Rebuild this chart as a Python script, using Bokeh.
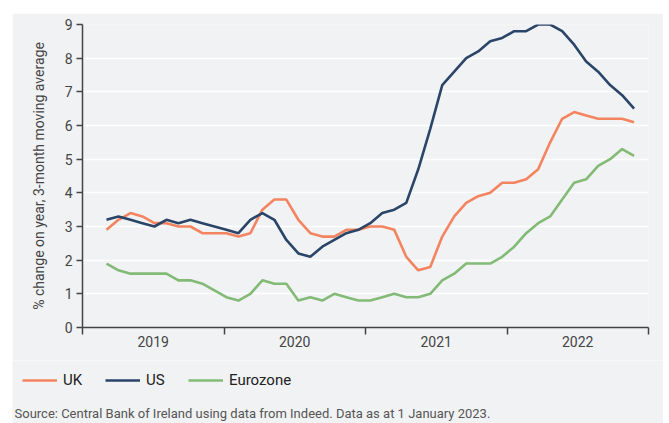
from bokeh.plotting import figure
from bokeh.layouts import column
from bokeh.models import Range1d, FixedTicker, Legend, LegendItem, Label
from bokeh.embed import file_html
from bokeh.resources import INLINE

# Monthly observations, March 2019 onwards (index 0 = Mar 2019)
month_index = list(range(45))
uk = [2.9, 3.2, 3.4, 3.3, 3.1, 3.1, 3.0, 3.0, 2.8, 2.8, 2.8, 2.7, 2.8, 3.5, 3.8,
      3.8, 3.2, 2.8, 2.7, 2.7, 2.9, 2.9, 3.0, 3.0, 2.9, 2.1, 1.7, 1.8, 2.7, 3.3,
      3.7, 3.9, 4.0, 4.3, 4.3, 4.4, 4.7, 5.5, 6.2, 6.4, 6.3, 6.2, 6.2, 6.2, 6.1]
us = [3.2, 3.3, 3.2, 3.1, 3.0, 3.2, 3.1, 3.2, 3.1, 3.0, 2.9, 2.8, 3.2, 3.4, 3.2,
      2.6, 2.2, 2.1, 2.4, 2.6, 2.8, 2.9, 3.1, 3.4, 3.5, 3.7, 4.7, 5.9, 7.2, 7.6,
      8.0, 8.2, 8.5, 8.6, 8.8, 8.8, 9.0, 9.0, 8.8, 8.4, 7.9, 7.6, 7.2, 6.9, 6.5]
eurozone = [1.9, 1.7, 1.6, 1.6, 1.6, 1.6, 1.4, 1.4, 1.3, 1.1, 0.9, 0.8, 1.0, 1.4, 1.3,
            1.3, 0.8, 0.9, 0.8, 1.0, 0.9, 0.8, 0.8, 0.9, 1.0, 0.9, 0.9, 1.0, 1.4, 1.6,
            1.9, 1.9, 1.9, 2.1, 2.4, 2.8, 3.1, 3.3, 3.8, 4.3, 4.4, 4.8, 5.0, 5.3, 5.1]
years = ["2019", "2020", "2021", "2022"]
y_ticks = list(range(0, 10))
series_names = ["UK", "US", "Eurozone"]
series_colors = ["#f4845f", "#2b4568", "#82ba76"]

FONT = "Roboto"
TEXT = "#444444"
BG = "#f1f2f4"

year_len = 11.8
year_start = -2.0
year_edges = [year_start + k * year_len for k in range(len(years) + 1)]
year_mids = [year_start + (k + 0.5) * year_len for k in range(len(years))]

p = figure(width=651, height=347, output_backend="svg", toolbar_location=None,
           x_range=Range1d(year_edges[0], year_edges[-1]), y_range=Range1d(0, 9),
           min_border_left=70, min_border_right=15, min_border_top=11, min_border_bottom=33)
p.background_fill_color = BG
p.border_fill_color = BG
p.outline_line_color = None

p.xgrid.grid_line_color = None
p.ygrid.grid_line_color = "white"
p.ygrid.grid_line_width = 1.5
p.ygrid.ticker = FixedTicker(ticks=y_ticks)

for vals, col in zip([uk, us, eurozone], series_colors):
    p.line(month_index, vals, line_color=col, line_width=2.6)

ax = p.xaxis[0]
ax.ticker = FixedTicker(ticks=year_mids, minor_ticks=year_edges)
ax.major_label_overrides = {m: y for m, y in zip(year_mids, years)}
ax.major_tick_out = 0
ax.major_tick_in = 0
ax.minor_tick_out = 7
ax.minor_tick_in = 0
ax.minor_tick_line_color = "#444444"
ax.minor_tick_line_width = 1.5
ax.axis_line_color = "#444444"
ax.axis_line_width = 1.5
ax.major_label_standoff = 1
ax.major_label_text_font = FONT
ax.major_label_text_font_size = "14px"
ax.major_label_text_color = TEXT

ay = p.yaxis[0]
ay.ticker = FixedTicker(ticks=y_ticks)
ay.major_tick_out = 6
ay.major_tick_in = 0
ay.minor_tick_out = 0
ay.minor_tick_in = 0
ay.major_tick_line_color = "#444444"
ay.major_tick_line_width = 1.5
ay.axis_line_color = "#444444"
ay.axis_line_width = 1.5
ay.major_label_standoff = 4
ay.major_label_text_font = FONT
ay.major_label_text_font_size = "14px"
ay.major_label_text_color = TEXT
ay.axis_label = "% change on year, 3-month moving average"
ay.axis_label_text_font = FONT
ay.axis_label_text_font_size = "14px"
ay.axis_label_text_font_style = "normal"
ay.axis_label_text_color = TEXT
ay.axis_label_standoff = 15

# Legend + source strip below the chart
p2 = figure(width=651, height=63, output_backend="svg", toolbar_location=None,
            x_range=Range1d(0, 1), y_range=Range1d(0, 1),
            x_axis_location=None, y_axis_location=None, min_border=0)
p2.background_fill_color = BG
p2.border_fill_color = BG
p2.outline_line_color = None
p2.grid.grid_line_color = None

for fig in (p, p2):
    if "frame_align" in fig.properties():
        fig.frame_align = False

items = []
nan = float("nan")
for name, col in zip(series_names, series_colors):
    r = p2.line(x=[nan], y=[nan], line_color=col, line_width=2.6)
    items.append(LegendItem(label=name, renderers=[r]))

legend = Legend(items=items, orientation="horizontal", location=(10, 34),
                background_fill_alpha=0, border_line_color=None,
                padding=0, margin=0, spacing=22, glyph_width=35, glyph_height=16,
                label_standoff=6, label_text_font=FONT, label_text_font_size="15px",
                label_text_color="#222222", label_height=16)
p2.add_layout(legend, "center")

src = Label(x=2, y=10, x_units="screen", y_units="screen",
            text="Source: Central Bank of Ireland using data from Indeed. Data as at 1 January 2023.",
            text_font=FONT, text_font_size="13px", text_color="#555555",
            text_baseline="middle")
p2.add_layout(src)

layout = column(p, p2, spacing=0, margin=(13, 0, 0, 12))
open("out.html", "w").write(file_html(layout, INLINE))
